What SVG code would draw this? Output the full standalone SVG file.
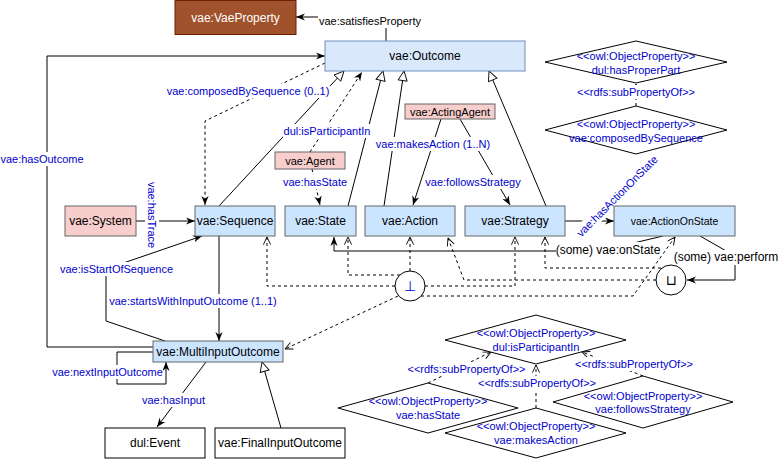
<svg xmlns="http://www.w3.org/2000/svg" width="780" height="460" viewBox="0 0 780 460">
<style>
.n{font-family:"Liberation Sans",Arial,sans-serif;font-size:12px;text-anchor:middle;dominant-baseline:central;fill:#000}
.e{font-family:"Liberation Sans",Arial,sans-serif;font-size:11px;text-anchor:middle;dominant-baseline:central;fill:#0000CC}
.k{font-family:"Liberation Sans",Arial,sans-serif;font-size:12px;text-anchor:middle;dominant-baseline:central;fill:#000}
.bg{fill:#fff;stroke:none}
.dash{stroke-dasharray:3 3}
.blue{fill:#cce5ff;stroke:#666666;stroke-width:1}
.outc{fill:#dae8fc;stroke:#6c8ebf;stroke-width:1}
.pink{fill:#f8cecc;stroke:#666666;stroke-width:1}
.white{fill:#fff;stroke:#000;stroke-width:1}
.brown{fill:#a0522d;stroke:#6d1f00;stroke-width:1}
.sym{font-family:"DejaVu Sans",sans-serif;font-size:14px;text-anchor:middle;dominant-baseline:central}
</style>
<defs>
<marker id="arrow" viewBox="0 0 10 10" refX="10" refY="5" markerWidth="9" markerHeight="9" markerUnits="userSpaceOnUse" orient="auto">
<path d="M0,1 L10,5 L0,9 L3,5 z" fill="#000" stroke="none"/>
</marker>
<marker id="open" viewBox="0 0 10 10" refX="9.5" refY="5" markerWidth="9" markerHeight="9" markerUnits="userSpaceOnUse" orient="auto">
<path d="M1,1 L9.5,5 L1,9" fill="none" stroke="#000" stroke-width="1"/>
</marker>
<marker id="tri" viewBox="0 0 12 12" refX="11.5" refY="6" markerWidth="11" markerHeight="11" markerUnits="userSpaceOnUse" orient="auto">
<path d="M1,1 L11.5,6 L1,11 z" fill="#fff" stroke="#000" stroke-width="1"/>
</marker>
</defs>
<rect width="780" height="460" fill="#fff"/>
<g id="connectors" fill="none" stroke="#000" stroke-width="1">
<path d="M386,41 L386,17 L296,17" marker-end="url(#arrow)"/>
<path d="M153,347 L47,347 L47,56 L325,56" marker-end="url(#arrow)"/>
<path class="dash" d="M325,63 L205,121 L205,205" marker-end="url(#arrow)"/>
<path d="M219,206 L344,71" marker-end="url(#tri)"/>
<path class="dash" d="M310,152 L362,72" marker-end="url(#arrow)"/>
<path d="M348,206 L383,71" marker-end="url(#tri)"/>
<path d="M384,206 L404,71" marker-end="url(#tri)"/>
<path d="M546,206 L489,71" marker-end="url(#tri)"/>
<path d="M441,119 L413,205" marker-end="url(#arrow)"/>
<path d="M460,119 L510,205" marker-end="url(#arrow)"/>
<path class="dash" d="M312,169 L320,205" marker-end="url(#arrow)"/>
<path d="M136,221 L195,221" marker-end="url(#arrow)"/>
<path d="M565,221 L614,221" marker-end="url(#arrow)"/>
<path d="M663,236 L600,251 L334,251 L334,237" marker-end="url(#arrow)"/>
<path d="M700,236 L735,256 L735,280 L687,280" marker-end="url(#arrow)"/>
<path d="M219,236 L219,341" marker-end="url(#arrow)"/>
<path d="M165,341 L106,321 L106,269 L202,236" marker-end="url(#arrow)"/>
<path d="M153,352 L117,352 L117,384 L166,384 L166,362" marker-end="url(#arrow)"/>
<path d="M206,362 L157,427" marker-end="url(#arrow)"/>
<path d="M281,428 L262,362" marker-end="url(#tri)"/>
<path class="dash" d="M395,286 L267,286 L267,237" marker-end="url(#open)"/>
<path class="dash" d="M400,275 L348,275 L348,237" marker-end="url(#open)"/>
<path class="dash" d="M410,271 L410,237" marker-end="url(#open)"/>
<path class="dash" d="M425,286 L515,286 L515,237" marker-end="url(#open)"/>
<path class="dash" d="M398,296 L285,349" marker-end="url(#open)"/>
<path class="dash" d="M421,296 L633,296 L675,237" marker-end="url(#open)"/>
<path class="dash" d="M656,280 L464,280 L448,238" marker-end="url(#open)"/>
<path class="dash" d="M661,268 L545,268 L545,237" marker-end="url(#open)"/>
<path class="dash" d="M636,106 L636,84" marker-end="url(#open)"/>
<path class="dash" d="M428,383 L491,352" marker-end="url(#open)"/>
<path class="dash" d="M536,408 L536,365" marker-end="url(#open)"/>
<path class="dash" d="M643,376 L582,352" marker-end="url(#open)"/>
<g id="edge-labels" stroke="none">
<rect class="bg" x="318" y="14" width="104" height="14"/><text class="e" x="370" y="21" style="fill:#000">vae:satisfiesProperty</text>
<rect class="bg" x="0" y="152" width="84" height="14"/><text class="e" x="42" y="159">vae:hasOutcome</text>
<rect class="bg" x="166" y="84" width="164" height="14"/><text class="e" x="248" y="91">vae:composedBySequence (0..1)</text>
<rect class="bg" x="283" y="124" width="88" height="14"/><text class="e" x="327" y="131">dul:isParticipantIn</text>
<rect class="bg" x="283" y="175" width="64" height="14"/><text class="e" x="315" y="182">vae:hasState</text>
<rect class="bg" x="376" y="137" width="114" height="14"/><text class="e" x="433" y="144">vae:makesAction (1..N)</text>
<rect class="bg" x="430" y="175" width="86" height="14"/><text class="e" x="473" y="182">vae:followsStrategy</text>
<g transform="translate(152,215) rotate(90)"><rect class="bg" x="-34" y="-7" width="68" height="14"/><text class="e" x="0" y="0">vae:hasTrace</text></g>
<g transform="translate(617,196) rotate(-45)"><rect class="bg" x="-56" y="-7" width="112" height="14"/><text class="e" x="0" y="0">vae:hasActionOnState</text></g>
<rect class="bg" x="556" y="242" width="104" height="15"/><text class="k" x="608" y="249.5">(some) vae:onState</text>
<rect class="bg" x="675" y="250" width="105" height="15"/><text class="k" x="726" y="257">(some) vae:perform</text>
<rect class="bg" x="60" y="262" width="113" height="14"/><text class="e" x="116.5" y="269">vae:isStartOfSequence</text>
<rect class="bg" x="109" y="294" width="168" height="14"/><text class="e" x="193" y="301">vae:startsWithInputOutcome (1..1)</text>
<rect class="bg" x="52" y="365" width="111" height="14"/><text class="e" x="107.5" y="372">vae:nextInputOutcome</text>
<rect class="bg" x="142" y="393" width="63" height="14"/><text class="e" x="173.5" y="400">vae:hasInput</text>
<rect class="bg" x="577" y="85" width="119" height="14"/><text class="e" x="636" y="92">&lt;&lt;rdfs:subPropertyOf&gt;&gt;</text>
<rect class="bg" x="407" y="362" width="119" height="14"/><text class="e" x="466.5" y="369">&lt;&lt;rdfs:subPropertyOf&gt;&gt;</text>
<rect class="bg" x="477" y="376" width="119" height="14"/><text class="e" x="537" y="383">&lt;&lt;rdfs:subPropertyOf&gt;&gt;</text>
<rect class="bg" x="575" y="357" width="119" height="14"/><text class="e" x="634" y="364">&lt;&lt;rdfs:subPropertyOf&gt;&gt;</text>
</g>
</g>
<g id="vaeProperty"><rect class="brown" x="175" y="0.5" width="121" height="34"/><text class="n" x="235.5" y="17.5" style="fill:#fff">vae:VaeProperty</text></g>
<g id="outcome"><rect class="outc" x="325" y="41" width="200" height="30"/><text class="n" x="425" y="56">vae:Outcome</text></g>
<g id="system"><rect class="pink" x="65" y="206" width="71" height="30"/><text class="n" x="100.5" y="221">vae:System</text></g>
<g id="sequence"><rect class="blue" x="195" y="206" width="80" height="30"/><text class="n" x="235" y="221">vae:Sequence</text></g>
<g id="state"><rect class="blue" x="285" y="206" width="71" height="30"/><text class="n" x="320.5" y="221">vae:State</text></g>
<g id="action"><rect class="blue" x="365" y="206" width="90" height="30"/><text class="n" x="410" y="221">vae:Action</text></g>
<g id="strategy"><rect class="blue" x="465" y="206" width="100" height="30"/><text class="n" x="515" y="221">vae:Strategy</text></g>
<g id="actionOnState"><rect class="blue" x="614" y="206" width="121" height="30"/><text class="n" x="674.5" y="221" style="font-size:10.5px">vae:ActionOnState</text></g>
<g id="agent"><rect class="pink" x="275" y="152" width="70" height="17"/><text class="n" x="310" y="160.5" style="font-size:11px">vae:Agent</text></g>
<g id="actingAgent"><rect class="pink" x="405" y="104" width="90" height="15"/><text class="n" x="450" y="111.5" style="font-size:11px">vae:ActingAgent</text></g>
<g id="multiInputOutcome"><rect class="blue" x="153" y="341" width="130" height="21"/><text class="n" x="218" y="351.5">vae:MultiInputOutcome</text></g>
<g id="event"><rect class="white" x="105" y="428" width="100" height="30"/><text class="n" x="155" y="443">dul:Event</text></g>
<g id="finalInputOutcome"><rect class="white" x="215" y="428" width="130" height="30"/><text class="n" x="280" y="443">vae:FinalInputOutcome</text></g>
<g id="disjoint"><circle class="white" cx="410" cy="286" r="15"/><text class="sym" x="410" y="286" fill="#0000CC">⊥</text></g>
<g id="union"><circle class="white" cx="671" cy="280" r="15"/><text class="sym" x="671" y="280" fill="#000">⊔</text></g>
<g id="hasProperPart"><polygon class="white" points="545,62 636,41 727,62 636,83"/><text class="e" x="636" y="55.5">&lt;&lt;owl:ObjectProperty&gt;&gt;</text><text class="e" x="636" y="69.5">dul:hasProperPart</text></g>
<g id="composedBySequenceProp"><polygon class="white" points="545,130 636,106 727,130 636,154"/><text class="e" x="636" y="123.5">&lt;&lt;owl:ObjectProperty&gt;&gt;</text><text class="e" x="636" y="137.5">vae:composedBySequence</text></g>
<g id="isParticipantInProp"><polygon class="white" points="445,340 536,315 626,340 536,364"/><text class="e" x="536" y="333">&lt;&lt;owl:ObjectProperty&gt;&gt;</text><text class="e" x="536" y="347">dul:isParticipantIn</text></g>
<g id="hasStateProp"><polygon class="white" points="338,408 428,383 518,408 428,433"/><text class="e" x="428" y="401">&lt;&lt;owl:ObjectProperty&gt;&gt;</text><text class="e" x="428" y="415">vae:hasState</text></g>
<g id="makesActionProp"><polygon class="white" points="445,433 536,408 626,433 536,458"/><text class="e" x="536" y="426">&lt;&lt;owl:ObjectProperty&gt;&gt;</text><text class="e" x="536" y="440">vae:makesAction</text></g>
<g id="followsStrategyProp"><polygon class="white" points="553,402 643,376 733,402 643,428"/><text class="e" x="643" y="395.5">&lt;&lt;owl:ObjectProperty&gt;&gt;</text><text class="e" x="643" y="409">vae:followsStrategy</text></g>
</svg>
